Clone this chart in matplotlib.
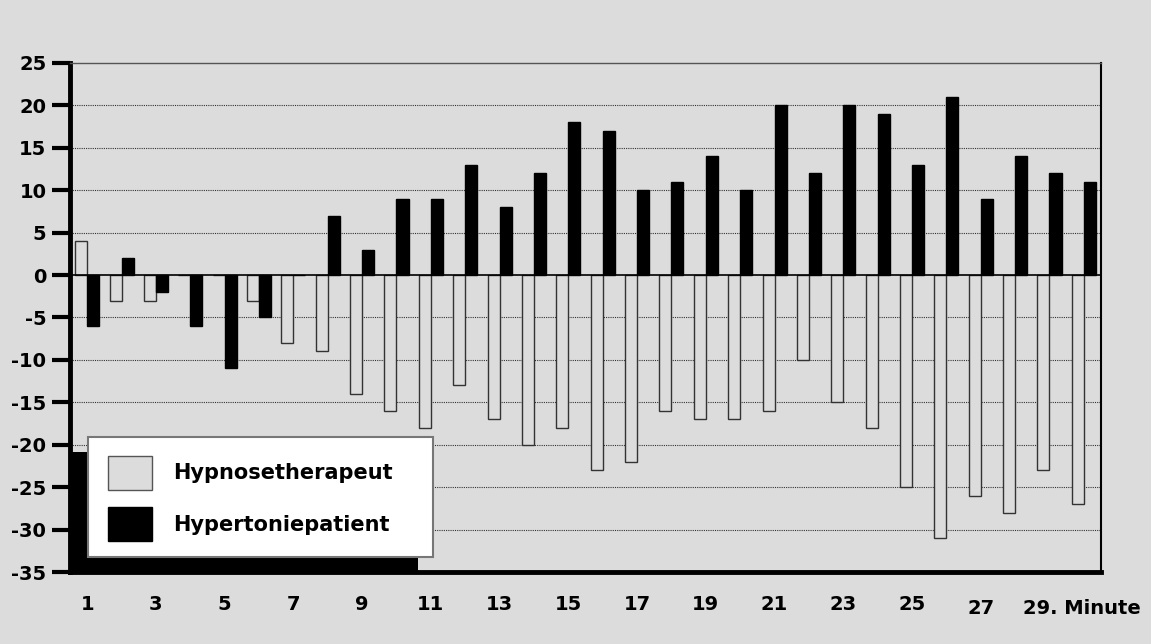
# hypno_bars.py
# paired bars: therapist vs. hypertension patient, change per minute

import numpy as np
import matplotlib.pyplot as plt
from matplotlib.patches import Rectangle

minutes = list(range(1, 31))
hypnotherapeut = [4, -3, -3, 0, 0, -3, -8, -9, -14, -16,
                  -18, -13, -17, -20, -18, -23, -22, -16, -17, -17,
                  -16, -10, -15, -18, -25, -31, -26, -28, -23, -27]
patient = [-6, 2, -2, -6, -11, -5, 0, 7, 3, 9,
           9, 13, 8, 12, 18, 17, 10, 11, 14, 10,
           20, 12, 20, 19, 13, 21, 9, 14, 12, 11]
xlabels = ["1", "3", "5", "7", "9", "11", "13", "15", "17", "19",
           "21", "23", "25", "27", "29. Minute"]
yticks = list(range(-35, 30, 5))

bg = "#dcdcdc"
plt.rcParams['font.family'] = ['DejaVu Sans']
plt.rcParams['font.weight'] = 'bold'

fig = plt.figure(figsize=(11.51, 6.44), dpi=100, facecolor=bg)
ax = fig.add_axes([0.0608, 0.1118, 0.8958, 0.7904], facecolor=bg)

x = np.array(minutes)
w = 0.35
ax.bar(x - w / 2, hypnotherapeut, w, color=bg, edgecolor="#333333", linewidth=1, zorder=3)
ax.bar(x + w / 2, patient, w, color="black", edgecolor="black", linewidth=1, zorder=3)

ax.set_xlim(0.5, 30.5)
ax.set_ylim(-35, 25)

# dotted grid lines, solid zero line
for v in yticks:
    if v in (-35, 0, 25):
        continue
    ax.axhline(v, color="#333333", linestyle=(0, (1, 1)), linewidth=0.8, zorder=1)
ax.axhline(0, color="black", linewidth=1.2, zorder=4)

ax.spines["left"].set_linewidth(3.5)
ax.spines["bottom"].set_linewidth(3.5)
ax.spines["top"].set_linewidth(1)
ax.spines["top"].set_color("#555555")
ax.spines["right"].set_linewidth(1.5)

ax.set_yticks(yticks)
ax.set_yticklabels([str(v) for v in yticks], fontsize=14, fontweight="bold")
ax.tick_params(axis="y", direction="out", length=13, width=3, pad=4)
ax.set_xticks([])

# x labels under every second minute
for i, lab in enumerate(xlabels):
    m = minutes[2 * i]
    if lab.startswith("29"):
        ax.text(m - 0.77, -0.072, lab, transform=ax.get_xaxis_transform(),
                ha="left", va="center", fontsize=14, fontweight="bold")
    else:
        yy = -0.072 if lab == "27" else -0.064
        ax.text(m, yy, lab, transform=ax.get_xaxis_transform(),
                ha="center", va="center", fontsize=14, fontweight="bold")

# legend box with black shadow
fig.add_artist(Rectangle((0.0608, 0.1118), 0.302, 0.186, transform=fig.transFigure,
                         facecolor="black", edgecolor="none", zorder=5))
fig.add_artist(Rectangle((0.0765, 0.1351), 0.2997, 0.1863, transform=fig.transFigure,
                         facecolor="white", edgecolor="#777777", linewidth=1.5, zorder=6))
fig.add_artist(Rectangle((0.0938, 0.2391), 0.0382, 0.0528, transform=fig.transFigure,
                         facecolor=bg, edgecolor="#555555", linewidth=1, zorder=7))
fig.add_artist(Rectangle((0.0938, 0.1600), 0.0382, 0.0528, transform=fig.transFigure,
                         facecolor="black", edgecolor="black", linewidth=1, zorder=7))
fig.text(0.1503, 0.2655, "Hypnosetherapeut", fontsize=15, fontweight="bold",
         va="center", ha="left", zorder=8)
fig.text(0.1503, 0.1848, "Hypertoniepatient", fontsize=15, fontweight="bold",
         va="center", ha="left", zorder=8)

fig.savefig("out.png", dpi=100, facecolor=bg)
